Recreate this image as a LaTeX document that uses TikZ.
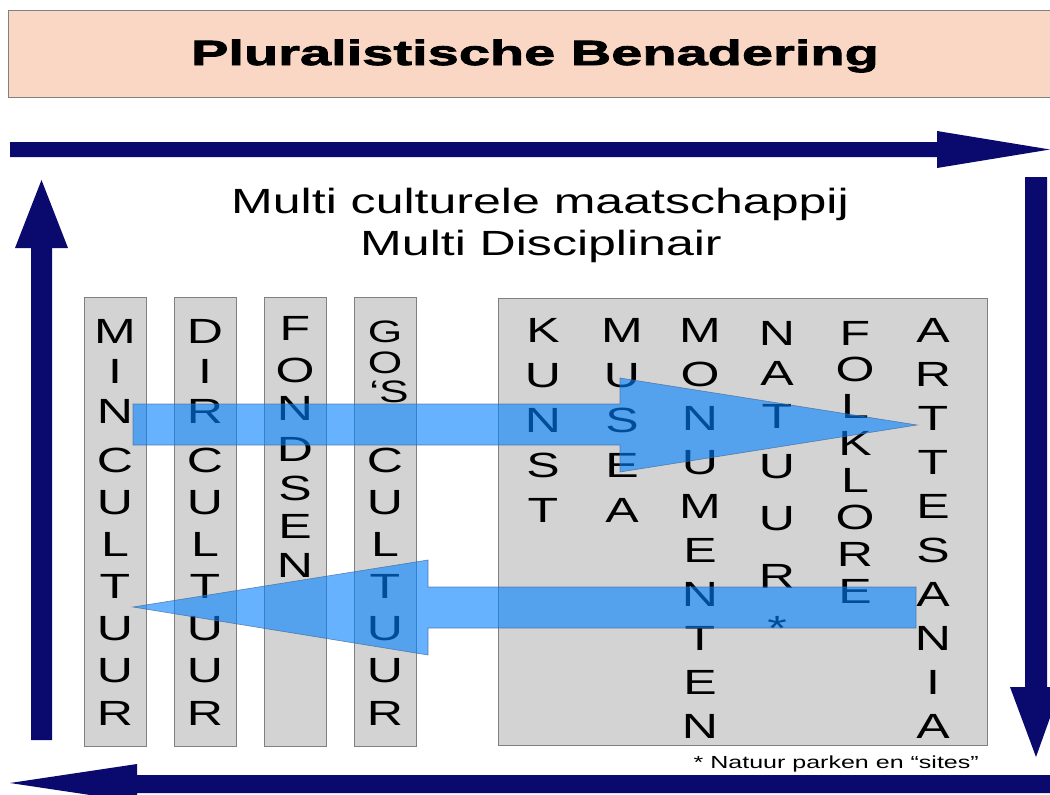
\documentclass[tikz,border=0pt]{standalone}
\usepackage{fontspec}
\setmainfont{Liberation Sans}[FakeStretch=1.43]
\newfontfamily\titlefont{Liberation Sans}[FakeStretch=1.6,BoldFeatures={FakeBold=2.5}]
\definecolor{darknavy}{RGB}{10,10,110}
\definecolor{peach}{RGB}{249,215,196}
\definecolor{boxgray}{RGB}{211,211,211}
\definecolor{boxline}{RGB}{128,128,128}
\definecolor{arrowblue}{RGB}{0,128,255}
\definecolor{arrowline}{RGB}{70,110,160}
\begin{document}
\begin{tikzpicture}[x=1pt,y=-1pt,
  letter/.style={anchor=base,inner sep=0pt,font=\fontsize{35}{42}\selectfont},
  smallletter/.style={anchor=base,inner sep=0pt,font=\fontsize{31}{36}\selectfont},
  colbox/.style={draw=boxline,fill=boxgray,line width=0.8pt},
  bigarrow/.style={fill=darknavy,draw=none},
  bluearrow/.style={fill=arrowblue,fill opacity=0.6,draw=arrowline,draw opacity=0.8,line width=0.6pt}]
\useasboundingbox (0,0) rectangle (1050,795);
\clip (0,0) rectangle (1050,795);
\fill[white] (0,0) rectangle (1050,795);

% title
\draw[draw=boxline,fill=peach,line width=0.8pt] (8,10) rectangle (1060,97);
\node[anchor=base,inner sep=0pt,font=\titlefont\bfseries\fontsize{35}{42}\selectfont] (title) at (535,65) {Pluralistische Benadering};

% dark navy frame arrows
\fill[bigarrow] (10,142) -- (937,142) -- (937,131) -- (1050,149.5) -- (937,168) -- (937,157) -- (10,157) -- cycle;
\fill[bigarrow] (1025,177) -- (1047,177) -- (1047,687) -- (1061,687) -- (1036,757) -- (1010,687) -- (1025,687) -- cycle;
\fill[bigarrow] (1050,775) -- (137,775) -- (137,764) -- (10,783) -- (137,802) -- (137,793) -- (1050,793) -- cycle;
\fill[bigarrow] (31,740) -- (31,248) -- (15,248) -- (41.5,180) -- (68,248) -- (52,248) -- (52,740) -- cycle;

% subtitle
\node[anchor=base,inner sep=0pt,font=\fontsize{35}{42}\selectfont] (sub1) at (540,213) {Multi culturele maatschappij};
\node[anchor=base,inner sep=0pt,font=\fontsize{35}{42}\selectfont] (sub2) at (541,255) {Multi Disciplinair};

% boxes
\draw[colbox] (84,297) rectangle (146,746);
\draw[colbox] (174,297) rectangle (236,746);
\draw[colbox] (264,297) rectangle (326,746);
\draw[colbox] (354,297) rectangle (416,746);
\draw[colbox] (498,298) rectangle (987,745);

% left columns
\foreach \t/\y [count=\i] in {M/343,I/383,N/423,C/472,U/514,L/556,T/598,U/640,U/682,R/725}
  \node[letter] (mc\i) at (115,\y) {\t};
\foreach \t/\y [count=\i] in {D/343,I/383,R/423,C/472,U/514,L/556,T/598,U/640,U/682,R/725}
  \node[letter] (dc\i) at (205,\y) {\t};
\foreach \t/\y [count=\i] in {F/340,O/382,N/420,D/461,S/500,E/538,N/577}
  \node[letter] (fo\i) at (295,\y) {\t};
\node[smallletter] (go1) at (385,342) {G};
\node[smallletter] (go2) at (385,373) {O};
\node[smallletter] (go3) at (389,402) {‘S};
\foreach \t/\y [count=\i from 4] in {C/472,U/514,L/556,T/598,U/640,U/682,R/725}
  \node[letter] (go\i) at (385,\y) {\t};

% big box columns
\foreach \t [count=\i] in {K,U,N,S,T}
  \node[letter] (ku\i) at (543,{342+45*(\i-1)}) {\t};
\foreach \t [count=\i] in {M,U,S,E,A}
  \node[letter] (mu\i) at (622,{342+45*(\i-1)}) {\t};
\foreach \t [count=\i] in {M,O,N,U,M,E,N,T,E,N}
  \node[letter] (mo\i) at (700,{342+44*(\i-1)}) {\t};
\foreach \t/\y [count=\i] in {N/345,A/385,T/428,U/478,U/530,R/588,*/640}
  \node[letter] (na\i) at (777,\y) {\t};
\foreach \t [count=\i] in {F,O,L,K,L,O,R,E}
  \node[letter] (fl\i) at (855,{345+36.9*(\i-1)}) {\t};
\foreach \t [count=\i] in {A,R,T,T,E,S,A,N,I,A}
  \node[letter] (ar\i) at (933,{342+44*(\i-1)}) {\t};

% footnote
\node[anchor=base east,inner sep=0pt,font=\fontsize{17.5}{20}\selectfont] (note) at (979,768) {* Natuur parken en “sites”};

% blue arrows
\draw[bluearrow] (133,404) -- (620,404) -- (620,378) -- (917,425) -- (620,472) -- (620,445) -- (133,445) -- cycle;
\draw[bluearrow] (916,587) -- (428,587) -- (428,560) -- (133,607) -- (428,655) -- (428,628) -- (916,628) -- cycle;
\end{tikzpicture}
\end{document}
